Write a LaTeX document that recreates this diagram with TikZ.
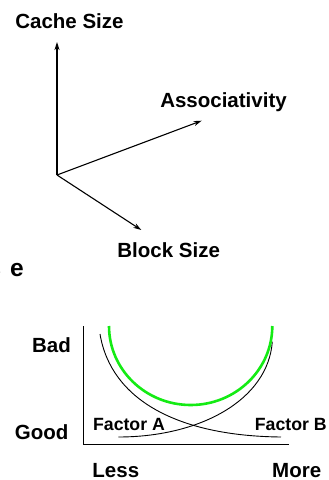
\documentclass[tikz,border=0pt]{standalone}
\usepackage{fontspec}
\setmainfont{Liberation Sans}
\usetikzlibrary{arrows.meta}
\definecolor{curvegreen}{RGB}{20,235,20}

\begin{document}
\begin{tikzpicture}[x=1pt, y=-1pt,
    lbl/.style={font=\fontsize{20.5}{24}\selectfont\bfseries, inner sep=0pt, anchor=base},
    factorlbl/.style={font=\fontsize{17.7}{21}\selectfont\bfseries, inner sep=0pt, anchor=base},
    dim/.style={-{Stealth[length=8pt, width=5pt, inset=2.5pt]}, line width=1.1pt},
    trade/.style={line width=0.9pt}]
    \useasboundingbox (0,0) rectangle (329,480);

    % three design dimensions
    \node[font=\fontsize{24.5}{28}\selectfont\bfseries, inner sep=0pt, anchor=base east] (title) at (24,276.8) {s\kern9pt e};
    \node[lbl] (cache) at (69.5,28) {Cache Size};
    \node[lbl] (assoc) at (223.5,107) {Associativity};
    \node[lbl] (block) at (168.7,257.3) {Block Size};

    \coordinate (o) at (57,175);
    \coordinate (cachetip) at (57,42);
    \coordinate (assoctip) at (201.7,120.7);
    \coordinate (blocktip) at (141.3,230);
    \draw[dim] (o) -- (cachetip);
    \draw[dim] (o) -- (assoctip);
    \draw[dim] (o) -- (blocktip);

    % trade-off graph
    \coordinate (gorigin) at (83.3,444.7);
    \coordinate (gtop) at (83.3,326);
    \coordinate (gright) at (289.3,444.7);
    \draw[line width=1pt] (gtop) -- (gorigin) -- (gright);

    \node[lbl] (bad) at (51.5,352.3) {Bad};
    \node[lbl] (good) at (41.7,439) {Good};
    \node[lbl] (less) at (115.8,477) {Less};
    \node[lbl] (more) at (296.7,477) {More};
    \node[factorlbl] (fa) at (129,430.7) {Factor A};
    \node[factorlbl] (fb) at (290.8,430.7) {Factor B};

    \coordinate (astart) at (100,334);
    \coordinate (aend) at (281,437);
    \coordinate (bstart) at (118.3,437);
    \coordinate (bend) at (272.3,341.7);
    \draw[trade] (astart) .. controls (111,400) and (178,436) .. (aend);
    \draw[trade] (bstart) .. controls (200,437) and (268,400) .. (bend);

    \coordinate (uleft) at (109,326);
    \coordinate (ubottom) at (190.7,405);
    \coordinate (uright) at (272.3,326);
    \draw[curvegreen, line width=2.6pt] (uleft) .. controls (109,369.6) and (145.6,405) .. (ubottom)
        .. controls (235.8,405) and (272.3,369.6) .. (uright);
\end{tikzpicture}
\end{document}
